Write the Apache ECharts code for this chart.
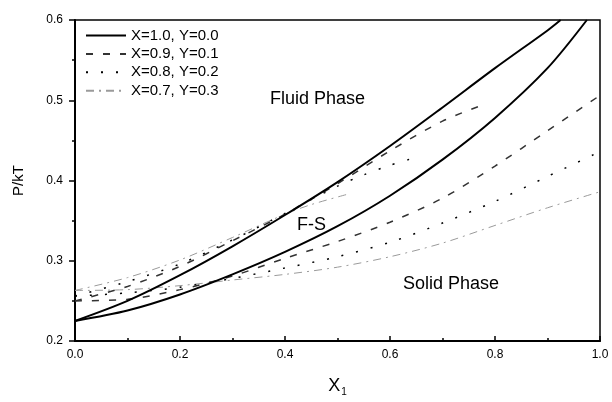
<!DOCTYPE html>
<html><head><meta charset="utf-8">
<script src="https://cdn.jsdelivr.net/npm/echarts@6/dist/echarts.min.js"></script>
<style>html,body{margin:0;padding:0;background:#fff}#c{width:612px;height:402px}</style>
</head><body><div id="c"></div>
<script>
const xTicks = [0.0, 0.2, 0.4, 0.6, 0.8, 1.0];
const yTicks = [0.2, 0.3, 0.4, 0.5, 0.6];
const seriesNames = ['X=1.0, Y=0.0', 'X=0.9, Y=0.1', 'X=0.8, Y=0.2', 'X=0.7, Y=0.3'];

// X=1.0, Y=0.0
const s1Upper = [[0,0.225],[0.1,0.25],[0.2,0.282],[0.3,0.318],[0.4,0.357],[0.5,0.398],[0.6,0.443],[0.7,0.491],[0.8,0.54],[0.9,0.587],[0.925,0.6]];
const s1Lower = [[0,0.225],[0.1,0.238],[0.2,0.258],[0.3,0.283],[0.4,0.311],[0.5,0.343],[0.6,0.381],[0.7,0.426],[0.8,0.478],[0.9,0.54],[0.975,0.6]];
// X=0.9, Y=0.1
const s2Upper = [[0,0.25],[0.1,0.268],[0.2,0.293],[0.3,0.325],[0.4,0.358],[0.5,0.396],[0.6,0.437],[0.7,0.474],[0.78,0.495]];
const s2Lower = [[0,0.25],[0.1,0.252],[0.2,0.264],[0.3,0.281],[0.4,0.303],[0.5,0.324],[0.6,0.348],[0.7,0.378],[0.8,0.418],[0.9,0.462],[1.0,0.506]];
// X=0.8, Y=0.2
const s3Upper = [[0,0.256],[0.1,0.274],[0.2,0.296],[0.3,0.326],[0.4,0.359],[0.5,0.393],[0.55,0.407],[0.6,0.419],[0.64,0.427]];
const s3Lower = [[0,0.256],[0.1,0.26],[0.2,0.267],[0.3,0.278],[0.4,0.291],[0.5,0.305],[0.6,0.323],[0.7,0.347],[0.8,0.374],[0.9,0.405],[1.0,0.436]];
// X=0.7, Y=0.3
const s4Upper = [[0,0.263],[0.1,0.279],[0.2,0.301],[0.3,0.329],[0.4,0.358],[0.45,0.37],[0.52,0.383]];
const s4Lower = [[0,0.263],[0.1,0.264],[0.2,0.269],[0.3,0.276],[0.4,0.283],[0.5,0.292],[0.6,0.305],[0.7,0.322],[0.8,0.344],[0.9,0.366],[1.0,0.386]];

const styles = [
  {color:'#000', width:2, type:'solid'},
  {color:'#333', width:1.5, type:[7,10]},
  {color:'#000', width:1.5, type:[2,13]},
  {color:'#9a9a9a', width:1, type:[8,5,2,5]}
];
const branches = [[s1Upper,s1Lower],[s2Upper,s2Lower],[s3Upper,s3Lower],[s4Upper,s4Lower]];
const series = [];
branches.forEach((pair, i) => {
  pair.forEach(d => {
    series.push({
      name: seriesNames[i], type:'line', data:d, symbol:'none', smooth:0.3,
      lineStyle: styles[i], itemStyle:{color: styles[i].color, opacity:0}, z: 10 - i
    });
  });
});

const font = 'Liberation Sans, Arial, sans-serif';
const chart = echarts.init(document.getElementById('c'));
chart.setOption({
  animation:false,
  grid:{left:75, right:12, top:20, bottom:59, show:true, borderColor:'#000', borderWidth:1.5, backgroundColor:'transparent'},
  legend:{
    data: seriesNames, orient:'vertical', left:80, top:23, itemWidth:40, itemHeight:14, itemGap:3.4,
    itemStyle:{opacity:0},
    textStyle:{fontFamily:font, fontSize:15, color:'#000'}
  },
  xAxis:{
    type:'value', min:0, max:1, interval:0.2,
    name:'{a|X}{b|1}', nameLocation:'middle', nameGap:34,
    nameTextStyle:{rich:{a:{fontFamily:font, fontSize:18, color:'#000'}, b:{fontFamily:font, fontSize:10, color:'#000', padding:[12,0,0,1]}}},
    axisLine:{lineStyle:{color:'#000', width:2}},
    axisTick:{inside:true, length:5, lineStyle:{color:'#000', width:1.5}},
    minorTick:{show:true, splitNumber:2, length:3, lineStyle:{color:'#000', width:1.5}},
    splitLine:{show:false},
    axisLabel:{fontFamily:font, fontSize:12, color:'#000', margin:8, formatter: v => v.toFixed(1)}
  },
  yAxis:{
    type:'value', min:0.2, max:0.6, interval:0.1,
    name:'P/kT', nameLocation:'middle', nameGap:49, nameRotate:90,
    nameTextStyle:{fontFamily:font, fontSize:15, color:'#000'},
    axisLine:{lineStyle:{color:'#000', width:2}},
    axisTick:{inside:false, length:6, lineStyle:{color:'#000', width:1.5}},
    minorTick:{show:true, splitNumber:2, length:3, lineStyle:{color:'#000', width:1.5}},
    splitLine:{show:false},
    axisLabel:{fontFamily:font, fontSize:12, color:'#000', margin:12, formatter: v => v.toFixed(1)}
  },
  graphic:[
    {type:'text', left:270, top:90, style:{text:'Fluid Phase', font:'18px '+font, fill:'#000'}},
    {type:'text', left:297, top:216, style:{text:'F-S', font:'18px '+font, fill:'#000'}},
    {type:'text', left:403, top:275, style:{text:'Solid Phase', font:'18px '+font, fill:'#000'}}
  ],
  series: series
});
</script></body></html>
